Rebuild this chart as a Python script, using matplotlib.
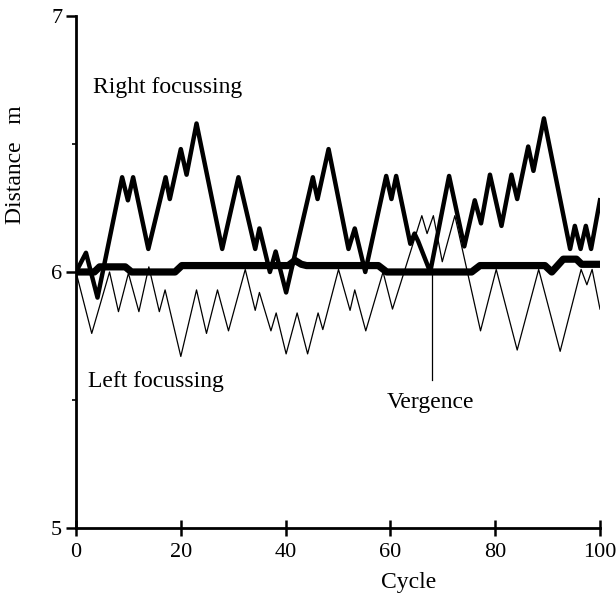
import matplotlib.pyplot as plt

plt.rcParams['font.family'] = ['Liberation Serif', 'DejaVu Serif']

# right eye focussing distance per cycle
right_cycle = [0, 1.9, 4.1, 8.8, 9.9, 10.9, 13.8, 17.1, 17.9, 20.0, 21.1, 23.0,
               27.9, 31.0, 34.2, 35.0, 37.0, 38.1, 40.1, 45.2, 46.1, 48.2, 52.0,
               53.2, 55.2, 59.2, 60.2, 61.1, 63.8, 64.6, 65.3, 67.6, 71.2, 74.1,
               76.1, 77.3, 79.0, 81.2, 83.1, 84.2, 86.3, 87.3, 89.3, 94.3, 95.2,
               96.3, 97.3, 98.3, 100]
right_dist = [6.00, 6.075, 5.90, 6.37, 6.28, 6.37, 6.09, 6.37, 6.285, 6.48, 6.38,
              6.58, 6.09, 6.37, 6.09, 6.17, 6.00, 6.08, 5.92, 6.37, 6.285, 6.48,
              6.09, 6.17, 6.00, 6.375, 6.285, 6.375, 6.11, 6.15, 6.12, 6.00, 6.375,
              6.10, 6.28, 6.19, 6.38, 6.18, 6.38, 6.285, 6.49, 6.395, 6.60, 6.09,
              6.18, 6.09, 6.18, 6.09, 6.28]

# left eye focussing distance per cycle
left_cycle = [0, 3.0, 6.4, 8.1, 10.0, 12.0, 13.9, 15.9, 17.0, 20.0, 23.0, 24.9,
              27.0, 29.1, 32.3, 34.2, 35.0, 37.2, 38.2, 40.1, 42.2, 44.2, 46.2,
              47.1, 50.1, 52.3, 53.2, 55.3, 58.6, 60.4, 66.0, 67.0, 68.2, 69.9,
              72.3, 77.2, 80.2, 84.2, 88.3, 92.4, 96.4, 97.5, 98.5, 100]
left_dist = [6.00, 5.76, 6.00, 5.845, 5.995, 5.845, 6.02, 5.845, 5.93, 5.67, 5.93,
             5.76, 5.93, 5.77, 6.01, 5.85, 5.92, 5.77, 5.84, 5.68, 5.84, 5.68,
             5.84, 5.775, 6.01, 5.85, 5.93, 5.77, 6.00, 5.855, 6.22, 6.15, 6.22,
             6.04, 6.22, 5.77, 6.01, 5.695, 6.01, 5.69, 6.01, 5.95, 6.01, 5.855]

# vergence distance per cycle
verg_cycle = [0, 3.5, 4.5, 9.4, 10.6, 18.9, 20.2, 40.5, 41.8, 43.0, 44.0, 57.7,
              59.3, 75.5, 77.1, 89.5, 90.8, 93.0, 95.5, 96.5, 100]
verg_dist = [6.00, 6.00, 6.02, 6.02, 6.00, 6.00, 6.025, 6.025, 6.045, 6.03, 6.025,
             6.025, 6.00, 6.00, 6.025, 6.025, 6.00, 6.05, 6.05, 6.03, 6.03]

fig = plt.figure(figsize=(6.16, 6.05), dpi=100)
ax = fig.add_axes([0.1234, 0.1273, 0.8506, 0.8463])

ax.plot(left_cycle, left_dist, color='black', lw=0.9)
ax.plot(right_cycle, right_dist, color='black', lw=3.2)
ax.plot(verg_cycle, verg_dist, color='black', lw=5.2)

# pointer to the vergence curve
ax.plot([67.9, 67.9], [6.0, 5.58], color='black', lw=0.9)

ax.text(3.2, 6.72, 'Right focussing', fontsize=17, va='center')
ax.text(2.3, 5.574, 'Left focussing', fontsize=17, va='center')
ax.text(67.6, 5.49, 'Vergence', fontsize=17, va='center', ha='center')

ax.set_xlim(0, 100)
ax.set_ylim(5, 7)
ax.set_xticks([0, 20, 40, 60, 80, 100])
ax.set_yticks([5, 6, 7])
ax.set_yticks([5.5, 6.5], minor=True)
ax.tick_params(axis='x', direction='inout', length=12, width=1.8, labelsize=16, pad=5)
ax.tick_params(axis='y', direction='out', length=7, width=1.8, labelsize=16, pad=3)
ax.tick_params(axis='y', which='minor', direction='out', length=3, width=1.2)

for s in ['top', 'right']:
    ax.spines[s].set_visible(False)
for s in ['left', 'bottom']:
    ax.spines[s].set_linewidth(2)

ax.text(63.4, -0.107, 'Cycle', fontsize=17, ha='center', va='center',
        transform=ax.get_xaxis_transform())
ax.text(-0.116, 0.709, 'Distance   m', fontsize=17, rotation=90, ha='center',
        va='center', transform=ax.transAxes)

fig.savefig('out.png', dpi=100)
